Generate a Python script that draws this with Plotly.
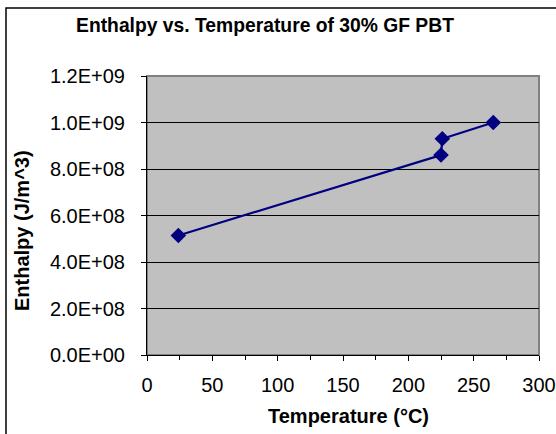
import plotly.graph_objects as go

# Measured enthalpy of 30% glass-filled PBT at several temperatures
temperature_c = [24, 225, 226, 265]
enthalpy_j_m3 = [5.14e8, 8.6e8, 9.3e8, 1.0e9]

y_tick_values = [0, 2e8, 4e8, 6e8, 8e8, 1.0e9, 1.2e9]
y_tick_labels = ["0.0E+00", "2.0E+08", "4.0E+08", "6.0E+08", "8.0E+08", "1.0E+09", "1.2E+09"]
x_tick_values = [0, 50, 100, 150, 200, 250, 300]
x_tick_labels = ["0", "50", "100", "150", "200", "250", "300"]

FONT = "Liberation Sans, Arial, sans-serif"
W, H = 556, 434
L, R, T, B = 147, 17, 76, 79
PW, PH = W - L - R, H - T - B


def px_x(px):
    return (px - L) / PW


def px_y(py):
    return (H - B - py) / PH


fig = go.Figure()
fig.add_trace(go.Scatter(
    x=temperature_c, y=enthalpy_j_m3,
    mode="lines+markers",
    line=dict(color="#000080", width=2.2),
    marker=dict(symbol="diamond", size=12, color="#000080"),
    showlegend=False,
    cliponaxis=False,
))

fig.update_layout(
    width=W, height=H,
    margin=dict(l=L, r=R, t=T, b=B, autoexpand=False),
    paper_bgcolor="white",
    plot_bgcolor="#C0C0C0",
    font=dict(family=FONT, size=20, color="black"),
    title=dict(
        text="<b>Enthalpy vs. Temperature of 30% GF PBT</b>",
        font=dict(family=FONT, size=19.3, color="black"),
        xref="container", yref="container",
        x=265 / W, y=1 - 25 / H, xanchor="center", yanchor="middle",
    ),
    xaxis=dict(
        range=[0, 300], tickvals=x_tick_values, ticktext=x_tick_labels,
        showgrid=False, zeroline=False, automargin=False,
        showline=True, linecolor="black", linewidth=1,
        ticks="outside", ticklen=5, tickcolor="black",
        minor=dict(ticks="outside", dtick=25, ticklen=4, tickcolor="black", showgrid=False),
        ticklabelstandoff=7,
        tickfont=dict(family=FONT, size=20),
    ),
    yaxis=dict(
        range=[0, 1.2e9], tickvals=y_tick_values, ticktext=y_tick_labels,
        showgrid=True, gridcolor="black", gridwidth=1, zeroline=False, automargin=False,
        showline=True, linecolor="black", linewidth=1,
        ticks="outside", ticklen=5, tickcolor="black",
        ticklabelstandoff=12,
        tickfont=dict(family=FONT, size=20),
    ),
    shapes=[
        # plot-area border
        dict(type="rect", xref="paper", yref="paper", x0=0, x1=1, y0=0, y1=1,
             line=dict(color="#808080", width=2), layer="below"),
        # chart frame
        dict(type="rect", xref="paper", yref="paper",
             x0=px_x(6), x1=px_x(W + 20), y0=px_y(H + 20), y1=px_y(8),
             line=dict(color="black", width=1.5)),
    ],
    annotations=[
        dict(text="<b>Temperature (°C)</b>", xref="paper", yref="paper",
             x=px_x(348), y=px_y(416), xanchor="center", yanchor="middle",
             showarrow=False, font=dict(family=FONT, size=20)),
        dict(text="<b>Enthalpy (J/m^3)</b>", xref="paper", yref="paper",
             x=px_x(22), y=px_y(231), xanchor="center", yanchor="middle",
             textangle=-90, showarrow=False, font=dict(family=FONT, size=20)),
    ],
)

fig.write_html("out.html")
